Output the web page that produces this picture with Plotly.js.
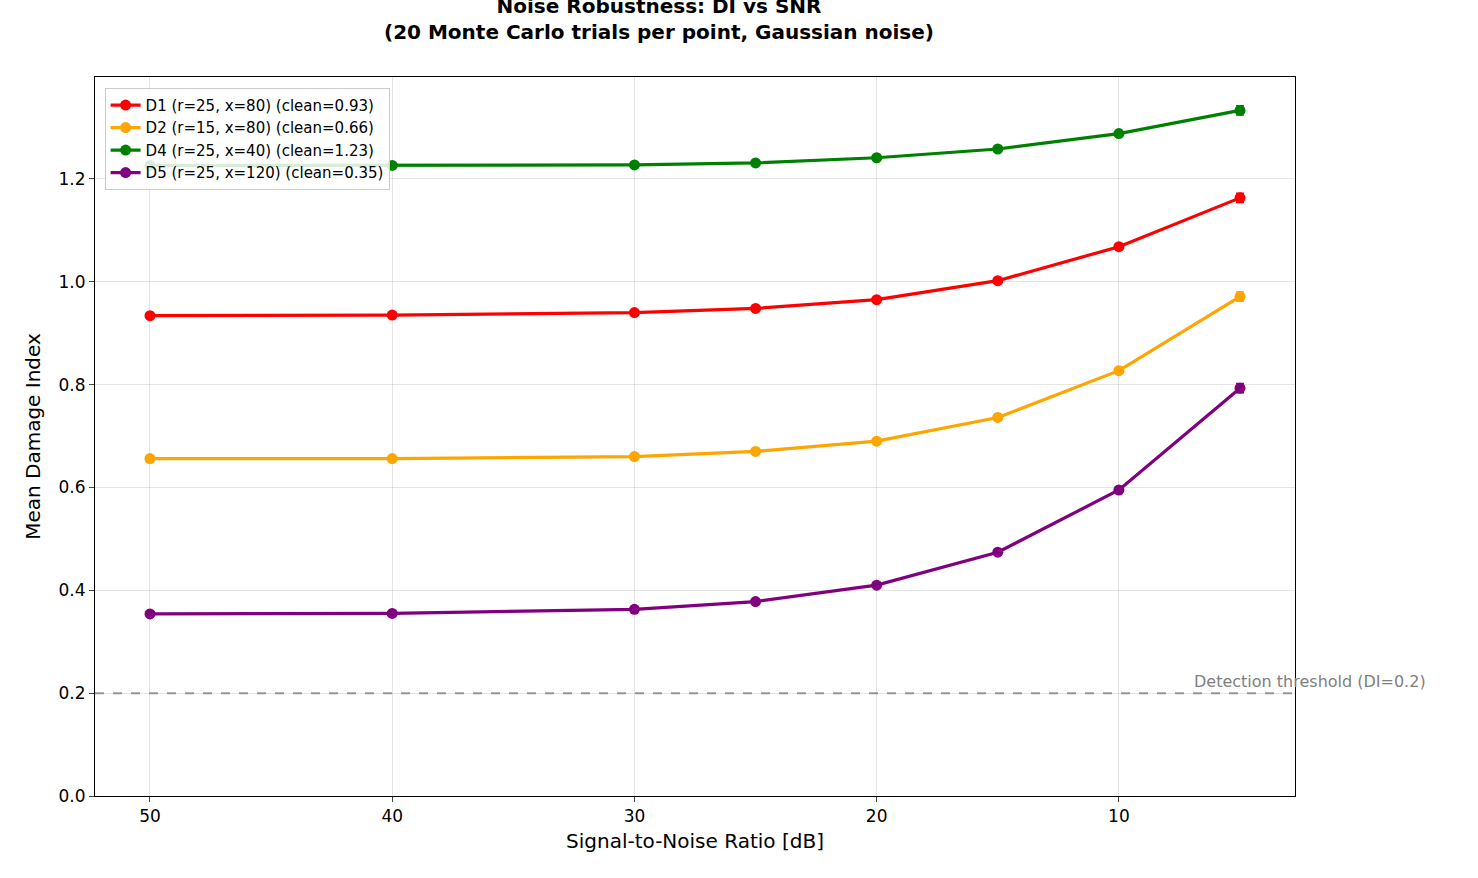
<!DOCTYPE html>
<html>
<head>
<script src="https://cdn.plot.ly/plotly-3.0.1.min.js"></script>
</head>
<body style="margin:0">
<div id="plot" style="width:1478px;height:878px"></div>
<script>
let snr = [50, 40, 30, 25, 20, 15, 10, 5];
let names = ['D1 (r=25, x=80) (clean=0.93)', 'D2 (r=15, x=80) (clean=0.66)',
             'D4 (r=25, x=40) (clean=1.23)', 'D5 (r=25, x=120) (clean=0.35)'];
let colours = ['red', 'orange', 'green', 'purple'];
let d1 = [0.934, 0.935, 0.940, 0.948, 0.965, 1.002, 1.068, 1.163];
let d2 = [0.656, 0.656, 0.660, 0.670, 0.690, 0.736, 0.827, 0.971];
let d4 = [1.226, 1.226, 1.227, 1.231, 1.241, 1.258, 1.288, 1.333];
let d5 = [0.354, 0.355, 0.363, 0.378, 0.410, 0.474, 0.595, 0.793];
let errs = [0.0005, 0.001, 0.001, 0.002, 0.002, 0.003, 0.005, 0.009];
let threshold = 0.2;

let data = [d1, d2, d4, d5].map((ys, i) => ({
    x: snr, y: ys, name: names[i], type: 'scatter', mode: 'lines+markers',
    line: {color: colours[i], width: 3.2},
    marker: {color: colours[i], size: 11},
    error_y: {type: 'data', array: errs, color: colours[i], thickness: 1.5, width: 4}
}));

let grid = {showgrid: true, gridcolor: 'rgba(0,0,0,0.1)', zeroline: false,
    showline: true, mirror: true, linecolor: 'black', linewidth: 1,
    ticks: 'outside', ticklen: 5, tickfont: {size: 17, color: 'black'}};

var layout = {
    width: 1478, height: 878,
    font: {family: 'DejaVu Sans', color: 'black'},
    paper_bgcolor: 'white', plot_bgcolor: 'white',
    margin: {l: 95, r: 183, t: 77, b: 82},
    title: {text: '<b>Noise Robustness: DI vs SNR<br>(20 Monte Carlo trials per point, Gaussian noise)</b>',
        font: {size: 20}, x: 0.47, xref: 'paper', xanchor: 'center',
        yref: 'container', y: 0.985, yanchor: 'top'},
    xaxis: Object.assign({}, grid, {range: [52.27, 2.73], tickvals: [50, 40, 30, 20, 10],
        title: {text: 'Signal-to-Noise Ratio [dB]', font: {size: 20}, standoff: 8}}),
    yaxis: Object.assign({}, grid, {range: [0, 1.398], dtick: 0.2, tickformat: '.1f',
        title: {text: 'Mean Damage Index', font: {size: 20}, standoff: 12}}),
    showlegend: true,
    legend: {x: 0.008, y: 0.985, xanchor: 'left', yanchor: 'top', bgcolor: 'rgba(255,255,255,0.85)',
        bordercolor: '#ccc', borderwidth: 1, font: {size: 15}},
    shapes: [{type: 'line', xref: 'paper', x0: 0, x1: 1, y0: threshold, y1: threshold,
        line: {color: 'gray', width: 2, dash: 'dash'}, opacity: 0.8}],
    annotations: [{x: 7.0, y: threshold, xanchor: 'left', yanchor: 'bottom', showarrow: false,
        text: 'Detection threshold (DI=0.2)', font: {size: 16, color: 'gray'}}]
};
Plotly.newPlot('plot', data, layout, {displayModeBar: false});
</script>
</body>
</html>
